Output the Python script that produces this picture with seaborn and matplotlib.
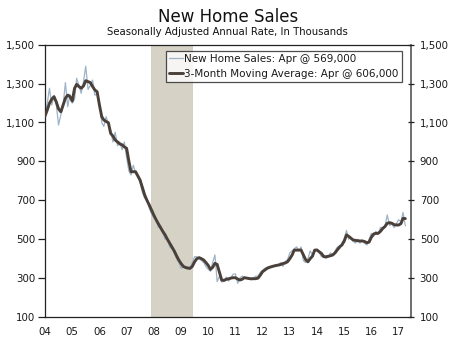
import numpy as np
import pandas as pd
import matplotlib
matplotlib.use("Agg")
import matplotlib.pyplot as plt
import matplotlib.dates as mdates
from matplotlib.ticker import FuncFormatter
import seaborn as sns

# Monthly new home sales, SAAR, thousands (Jan 2004 - Apr 2017)
sales = [
    1150, 1200, 1276, 1190, 1235, 1190, 1087, 1140, 1190, 1305, 1181, 1245,
    1200, 1220, 1327, 1290, 1250, 1310, 1389, 1270, 1290, 1318, 1240, 1250,
    1200, 1100, 1080, 1130, 1090, 1060, 1000, 1050, 980, 1000, 960, 1000,
    920, 850, 830, 880, 840, 820, 790, 740, 710, 700, 660, 630,
    610, 600, 560, 570, 530, 500, 500, 460, 450, 430, 400, 380,
    350, 360, 350, 345, 355, 380, 410, 410, 400, 390, 380, 360,
    345, 335, 380, 419, 282, 310, 280, 285, 305, 285, 300, 320,
    321, 273, 300, 310, 305, 300, 295, 300, 300, 310, 310, 330,
    340, 350, 355, 360, 355, 365, 365, 370, 380, 360, 385, 395,
    430, 440, 450, 461, 440, 460, 390, 380, 400, 440, 420, 440,
    450, 430, 410, 420, 400, 410, 430, 420, 440, 460, 450, 480,
    500, 545, 500, 510, 490, 480, 500, 480, 495, 480, 470, 500,
    530, 515, 540, 525, 560, 560, 565, 625, 570, 580, 560, 580,
    600, 590, 638, 569,
]
# 3-month moving average, thousands
moving_avg = [
    1133, 1165, 1199, 1220, 1233, 1205, 1170, 1155, 1190, 1225, 1241, 1233,
    1210, 1276, 1296, 1285, 1276, 1288, 1315, 1310, 1305, 1285, 1267, 1258,
    1190, 1130, 1113, 1105, 1099, 1044, 1030, 1010, 1000, 990, 985, 975,
    967, 900, 847, 847, 847, 825, 804, 765, 727, 700, 676, 650,
    624, 600, 580, 560, 540, 522, 500, 480, 461, 440, 415, 393,
    375, 360, 355, 352, 350, 360, 383, 400, 405, 400, 393, 380,
    365, 345, 355, 376, 370, 330, 290, 288, 294, 296, 300, 302,
    302, 295, 290, 294, 302, 300, 298, 296, 297, 297, 300, 315,
    333, 342, 350, 355, 359, 362, 365, 367, 370, 375, 378, 384,
    400, 419, 444, 444, 444, 444, 420, 395, 384, 400, 413, 444,
    444, 435, 427, 410, 410, 412, 415, 419, 430, 445, 461, 470,
    490, 522, 515, 505, 496, 494, 492, 491, 491, 488, 482, 485,
    510, 527, 530, 530, 540, 555, 565, 582, 585, 582, 575, 573,
    573, 580, 607, 606,
]
start_month = "2004-01-01"
recession = ("2007-12-01", "2009-06-15")
y_ticks = [100, 300, 500, 700, 900, 1100, 1300, 1500]
labels = ["New Home Sales: Apr @ 569,000", "3-Month Moving Average: Apr @ 606,000"]
title = "New Home Sales"
subtitle = "Seasonally Adjusted Annual Rate, In Thousands"

dates = pd.date_range(start_month, periods=len(sales), freq="MS")
df = pd.DataFrame({"date": dates, "sales": sales, "ma": moving_avg})

sns.set_style("white")
plt.rcParams["font.family"] = ["DejaVu Sans"]

fig = plt.figure(figsize=(4.5, 3.4), dpi=100)
ax = fig.add_axes([45 / 450, 1 - 317 / 340, (410.7 - 45) / 450, (317 - 44.7) / 340])

ax.axvspan(pd.Timestamp(recession[0]), pd.Timestamp(recession[1]), color="#D7D2C6", lw=0, zorder=0)
sns.lineplot(data=df, x="date", y="sales", ax=ax, color="#9DB3C8", lw=0.9, label=labels[0], zorder=2)
sns.lineplot(data=df, x="date", y="ma", ax=ax, color="#4A4039", lw=2.1, label=labels[1], zorder=3)

ax.set_xlim(pd.Timestamp("2004-01-01"), pd.Timestamp("2017-06-12"))
ax.set_ylim(100, 1500)
ax.set_yticks(y_ticks)
fmt = FuncFormatter(lambda v, p: f"{int(v):,}")
ax.yaxis.set_major_formatter(fmt)
ax.xaxis.set_major_locator(mdates.YearLocator())
ax.xaxis.set_major_formatter(mdates.DateFormatter("%y"))
ax.set_xlabel("")
ax.set_ylabel("")

tc = "#1a1a1a"
ax.tick_params(axis="y", direction="out", length=5, width=0.9, color="#222", labelsize=7.4, labelcolor=tc, pad=2)
ax.tick_params(axis="x", direction="inout", length=6, width=0.9, color="#222", labelsize=7.4, labelcolor=tc, pad=4)
for s in ["left", "bottom", "top"]:
    ax.spines[s].set_visible(True)
    ax.spines[s].set_color("#222")
    ax.spines[s].set_linewidth(0.9)
ax.spines["right"].set_color("#555")
ax.spines["right"].set_linewidth(1.2)

ax2 = ax.twinx()
ax2.set_ylim(100, 1500)
ax2.set_yticks(y_ticks)
ax2.yaxis.set_major_formatter(fmt)
ax2.tick_params(axis="y", direction="inout", length=5, width=0.9, color="#222", labelsize=7.4, labelcolor=tc, pad=4)
for s in ax2.spines.values():
    s.set_visible(False)
ax2.grid(False)
ax.grid(False)

leg = ax.legend(loc="upper left", bbox_to_anchor=(165.7 / 450, 1 - 51 / 340),
                bbox_transform=fig.transFigure, frameon=True, fancybox=False,
                edgecolor="#222", fontsize=7.5, handlelength=1.4, handletextpad=0.1,
                borderpad=0.3, labelspacing=0.45, borderaxespad=0)
leg.get_frame().set_linewidth(0.9)
for t in leg.get_texts():
    t.set_color(tc)

fig.text(0.5065, 1 - 17 / 340, title, ha="center", va="center", fontsize=12, color="#111")
fig.text(0.5065, 1 - 32 / 340, subtitle, ha="center", va="center", fontsize=7.3, color="#111")

fig.savefig("out.png", dpi=100)
